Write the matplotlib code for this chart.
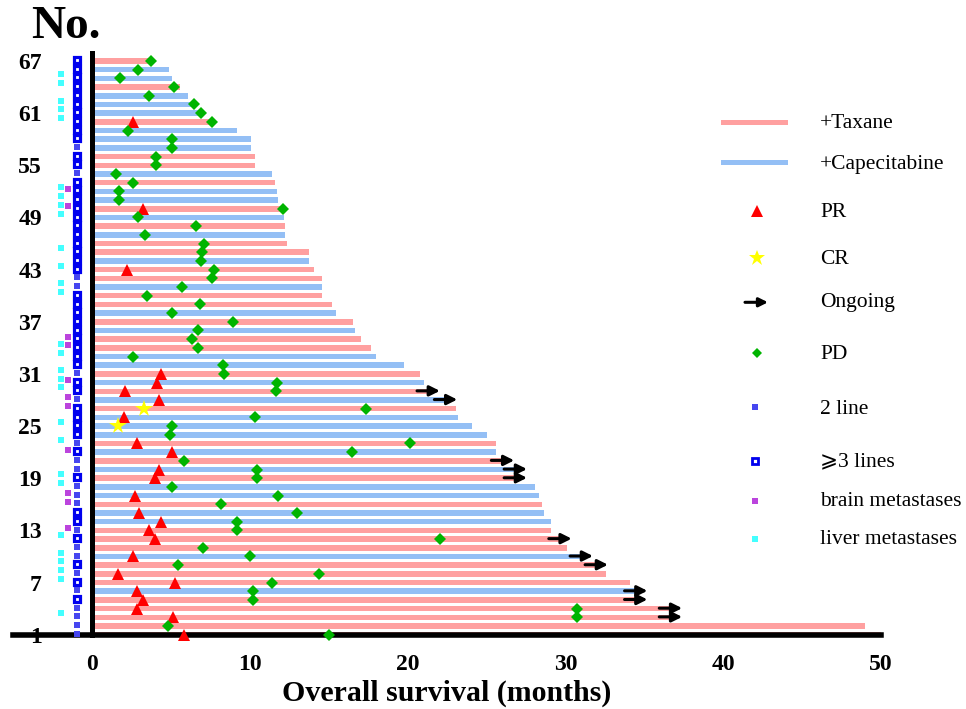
import matplotlib.pyplot as plt

plt.rcParams['font.family'] = ['Liberation Serif', 'DejaVu Serif', 'DejaVu Sans']

# one entry per patient, patient 1 at the bottom
arm = list("TTTTTCTTTC" "TTTCCTCCTC" "TCTCCCTCTC" "TCCTTCTCTT"
           "CTTCTTCTCT" "CCTCTTCCCT" "CCCTCCT")
os_months = [50.0, 49.0, 36.7, 36.7, 34.5, 34.5, 34.1, 32.6, 32.0, 31.05,
             30.08, 29.7, 29.07, 29.07, 28.66, 28.54, 28.33, 28.07, 26.87, 26.87,
             26.06, 25.6, 25.6, 25.05, 24.06, 23.2, 23.05, 22.45, 21.35, 21.06,
             20.79, 19.79, 17.98, 17.68, 17.05, 16.67, 16.55, 15.44, 15.19, 14.55,
             14.55, 14.55, 14.07, 13.75, 13.75, 12.38, 12.23, 12.23, 12.17, 12.0,
             11.8, 11.75, 11.6, 11.39, 10.33, 10.33, 10.05, 10.05, 9.17, 7.7,
             7.0, 6.6, 6.06, 5.6, 5.05, 4.9, 3.6]

pr_rows = [1, 3, 4, 5, 6, 7, 8, 10, 12, 13, 14, 15, 17, 19, 20, 22, 23, 26, 28,
           29, 30, 31, 43, 50, 60]
pr_months = [5.83, 5.15, 2.87, 3.21, 2.87, 5.26, 1.67, 2.58, 3.99, 3.59, 4.35,
             3.0, 2.72, 3.99, 4.27, 5.05, 2.83, 2.03, 4.27, 2.09, 4.14, 4.35,
             2.2, 3.25, 2.62]

cr_rows = [25, 27]
cr_months = [1.67, 3.32]

pd_rows = [1, 2, 3, 4, 5, 6, 7, 8, 9, 10, 11, 12, 13, 14, 15, 16, 17, 18, 19, 20,
           21, 22, 23, 24, 25, 26, 27, 29, 30, 31, 32, 33, 34, 35, 36, 37, 38, 39,
           40, 41, 42, 43, 44, 45, 46, 47, 48, 49, 50, 51, 52, 53, 54, 55, 56, 57,
           58, 59, 60, 61, 62, 63, 64, 65, 66, 67]
pd_months = [15.0, 4.79, 30.75, 30.75, 10.18, 10.18, 11.39, 14.4, 5.43, 10.0,
             7.05, 22.05, 9.17, 9.17, 13.0, 8.2, 11.8, 5.05, 10.43, 10.43,
             5.83, 16.5, 20.15, 4.94, 5.05, 10.33, 17.36, 11.64, 11.74, 8.38,
             8.3, 2.58, 6.74, 6.36, 6.74, 8.91, 5.05, 6.84, 3.5, 5.68,
             7.62, 7.75, 6.89, 6.99, 7.12, 3.36, 6.57, 2.9, 12.12, 1.71,
             1.71, 2.58, 1.52, 4.03, 4.03, 5.05, 5.05, 2.3, 7.63, 6.91,
             6.46, 3.63, 5.2, 1.77, 2.9, 3.74]

ongoing_rows = [3, 4, 5, 6, 9, 10, 12, 19, 20, 21, 28, 29]
two_line_rows = [1, 2, 3, 4, 6, 8, 10, 11, 13, 16, 17, 18, 20, 21, 23, 28, 31,
                 41, 42, 54, 57]
brain_rows = [13, 16, 17, 22, 27, 28, 30, 34, 35, 50, 52]
liver_rows = [3, 7, 8, 9, 10, 12, 18, 19, 23, 25, 29, 30, 31, 33, 34, 40, 41,
              43, 45, 49, 50, 51, 52, 60, 61, 62, 64, 65]

ytick_rows = [1, 7, 13, 19, 25, 31, 37, 43, 49, 55, 61, 67]

red = '#ffa0a0'
blue = '#94bff5'
arm_colors = {'T': red, 'C': blue}

rows = list(range(1, len(os_months) + 1))
three_rows = [r for r in rows if r not in two_line_rows]

fig = plt.figure(figsize=(9.66, 7.09), dpi=100)
ax = fig.add_axes([13 / 966, 1 - 634.7 / 709, 868 / 966, 581.9 / 709])

ax.barh(rows, os_months, height=0.64, color=[arm_colors[a] for a in arm],
        zorder=1)

ax.plot(pr_months, pr_rows, '^', color='red', ms=9, mew=0, zorder=5,
        clip_on=False)
ax.plot(cr_months, cr_rows, '*', color='#ffff00', ms=13, mew=0, zorder=5)
ax.plot(pd_months, pd_rows, 'D', color='#00b400', ms=6.3, mew=0, zorder=5,
        clip_on=False)

for r in ongoing_rows:
    end = os_months[r - 1]
    ax.annotate('', xy=(end + 0.7, r + 0.05), xytext=(end - 0.75, r + 0.05),
                arrowprops=dict(arrowstyle='-|>', color='black', lw=2.2,
                                mutation_scale=15, shrinkA=0, shrinkB=0),
                zorder=6)

# side columns: lines of therapy, brain and liver metastases
ax.plot([-0.97] * len(three_rows), [r + 0.1 for r in three_rows], 's',
        ms=4.6, mfc='white', mec='#0000ee', mew=2.3, zorder=4)
ax.plot([-0.97] * len(two_line_rows), [r + 0.1 for r in two_line_rows], 's',
        ms=4.6, color='#4646f0', mew=0, zorder=4, clip_on=False)
ax.plot([-1.5] * len(brain_rows), [r + 0.3 for r in brain_rows], 's',
        ms=4.6, color='#bb44dd', mew=0, zorder=4)
ax.plot([-1.96] * len(liver_rows), [r + 0.45 for r in liver_rows], 's',
        ms=4.6, color='#44ffff', mew=0, zorder=4)

ax.set_xlim(-5, 50)
ax.set_ylim(1.0, 67.94)

for s in ['top', 'right']:
    ax.spines[s].set_visible(False)
ax.spines['left'].set_position(('data', 0))
ax.spines['left'].set_linewidth(3.6)
ax.spines['bottom'].set_linewidth(4)
ax.spines['left'].set_zorder(3)
ax.spines['bottom'].set_zorder(3)

ax.set_xticks([0, 10, 20, 30, 40, 50])
ax.set_yticks(ytick_rows)
ax.tick_params(axis='both', length=0, labelsize=17)
ax.tick_params(axis='y', pad=36)
ax.tick_params(axis='x', pad=14)
for lab in ax.get_xticklabels() + ax.get_yticklabels():
    lab.set_fontweight('bold')

ax.set_xlabel('Overall survival (months)', fontsize=21.5, fontweight='bold',
              labelpad=3)

fig.text(31 / 966, 1 - 27 / 709, 'No.', fontsize=34, fontweight='bold',
         ha='left', va='center')

# legend, drawn in pixel coordinates
lg = fig.add_axes([0, 0, 1, 1])
lg.set_xlim(0, 966)
lg.set_ylim(709, 0)
lg.axis('off')
lg.patch.set_alpha(0)

lg.plot([723, 785], [122.3, 122.3], color=red, lw=3.6)
lg.plot([723, 785], [162.3, 162.3], color=blue, lw=3.6)
lg.plot([757], [210.7], '^', color='red', ms=8, mew=0)
lg.plot([757], [258.3], '*', color='#ffff00', ms=12, mew=0)
lg.annotate('', xy=(768, 302.3), xytext=(745, 302.3),
            arrowprops=dict(arrowstyle='-|>', color='black', lw=2.2,
                            mutation_scale=13, shrinkA=0, shrinkB=0))
lg.plot([757], [353.3], 'D', color='#00b400', ms=5.5, mew=0)
lg.plot([755], [407.3], 's', ms=4.3, color='#4646f0', mew=0)
lg.plot([755], [460.7], 's', ms=4, mfc='white', mec='#0000ee', mew=2)
lg.plot([755], [500.7], 's', ms=4.3, color='#bb44dd', mew=0)
lg.plot([755], [539], 's', ms=4.3, color='#44ffff', mew=0)

legend_labels = ['+Taxane', '+Capecitabine', 'PR', 'CR', 'Ongoing', 'PD',
                 '2 line', '\u2a7e3 lines', 'brain metastases', 'liver metastases']
legend_text_y = [124, 165, 212.7, 260, 303, 354.3, 409, 461.7, 501.7, 540]
for t, y in zip(legend_labels, legend_text_y):
    lg.text(820, y, t, fontsize=15.5, ha='left', va='center')

fig.savefig('out.png', dpi=100)
